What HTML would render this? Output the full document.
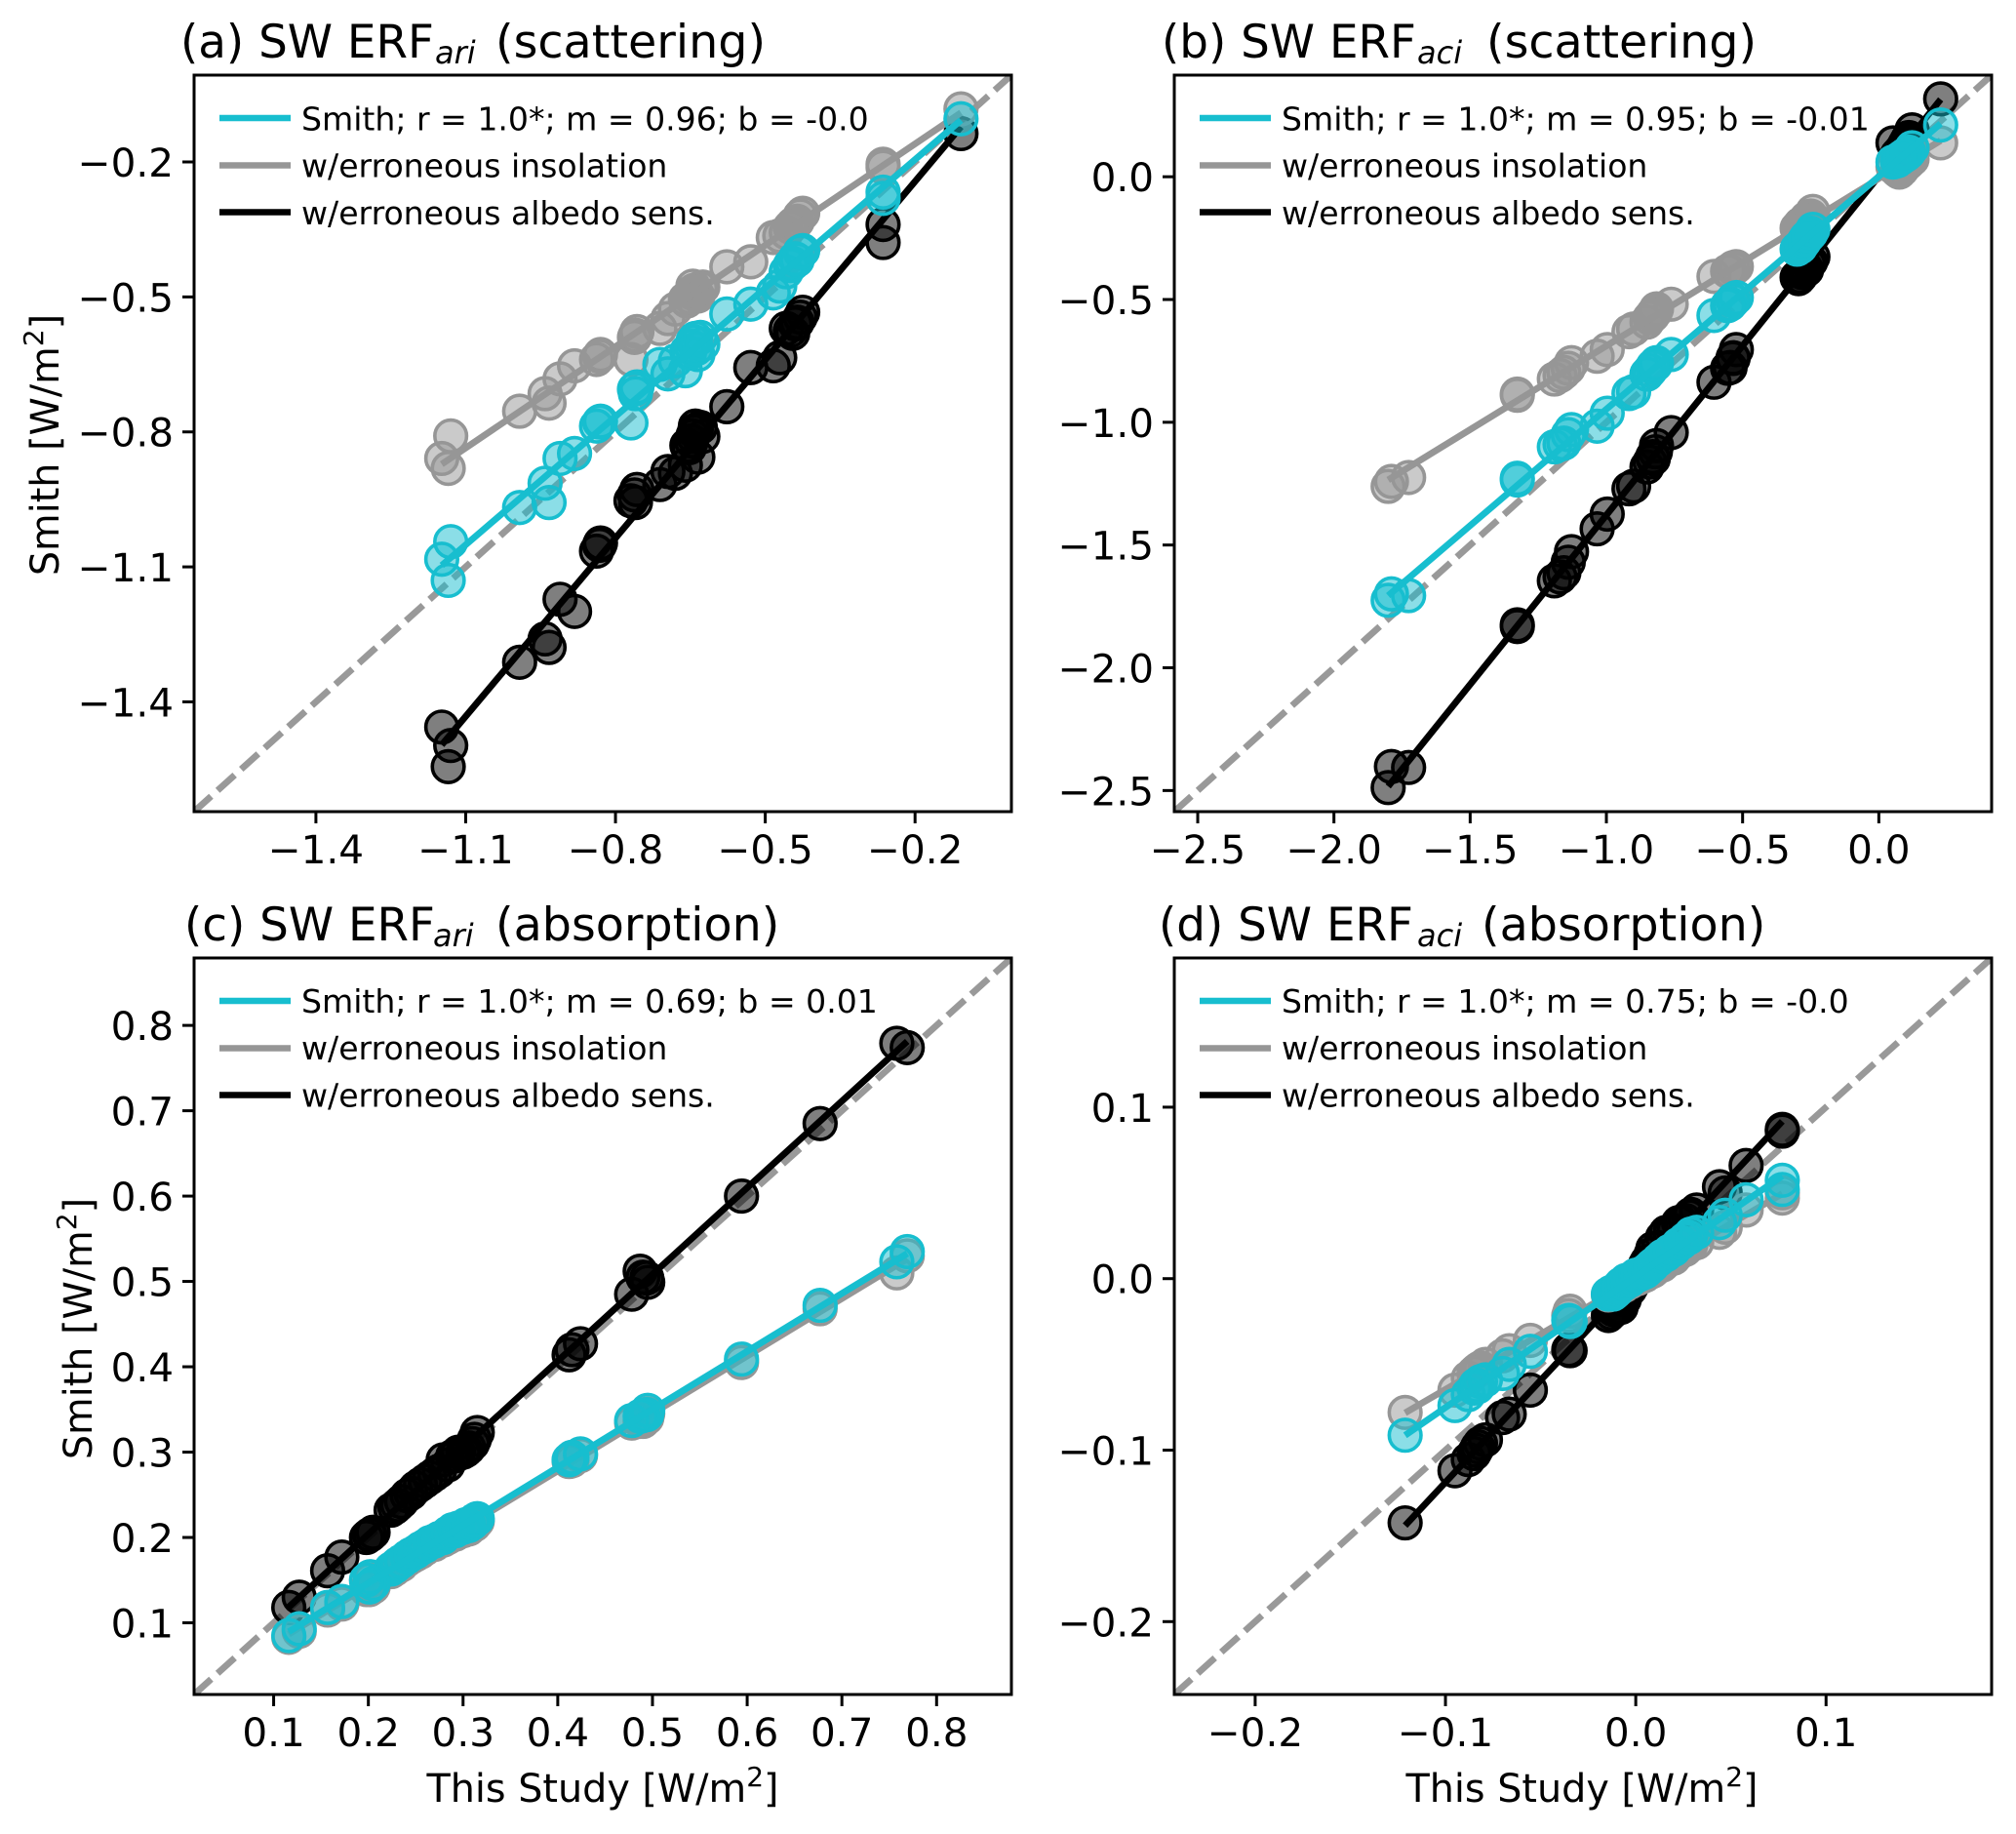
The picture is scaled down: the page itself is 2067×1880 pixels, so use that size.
<!DOCTYPE html>
<html lang="en">
<head>
<meta charset="utf-8">
<title>SW ERF comparison</title>
<style>
html,body{margin:0;padding:0;background:#fff;}
svg{display:block;font-family:"DejaVu Sans","Liberation Sans",sans-serif;}
.title{font-size:46.8px;fill:#000;}
.title .sub{font-size:32px;font-style:italic;}
.title .rest{font-size:47.6px;}
.leg{font-size:33.1px;fill:#000;}
.axlab{font-size:39.7px;fill:#000;}
.axlab .sup{font-size:28px;}
.tick{font-size:40.5px;fill:#000;}
</style>
</head>
<body>
<svg id="figure" xmlns="http://www.w3.org/2000/svg" width="2067" height="1880" viewBox="0 0 2067 1880">
  <rect x="0" y="0" width="2067" height="1880" fill="#fff"/>
  <defs>
    <clipPath id="clip-a"><rect x="199" y="77" width="838" height="755"/></clipPath>
    <clipPath id="clip-b"><rect x="1204" y="77" width="838" height="755"/></clipPath>
    <clipPath id="clip-c"><rect x="199" y="982" width="838" height="755"/></clipPath>
    <clipPath id="clip-d"><rect x="1204" y="982" width="838" height="755"/></clipPath>
  </defs>

  <g id="panel-a"></g>
  <g id="panel-b"></g>
  <g id="panel-c"></g>
  <g id="panel-d"></g>

  <text class="title" x="185" y="59">(a) SW ERF<tspan class="sub" x="446" dy="6">ari</tspan><tspan class="rest" x="508" dy="-6">(scattering)</tspan></text>
  <text class="title" x="1191" y="59">(b) SW ERF<tspan class="sub" x="1453" dy="6">aci</tspan><tspan class="rest" x="1524" dy="-6">(scattering)</tspan></text>
  <text class="title" x="189" y="964">(c) SW ERF<tspan class="sub" x="444" dy="6">ari</tspan><tspan class="rest" x="508" dy="-6">(absorption)</tspan></text>
  <text class="title" x="1188" y="964">(d) SW ERF<tspan class="sub" x="1453" dy="6">aci</tspan><tspan class="rest" x="1519" dy="-6">(absorption)</tspan></text>

  <text class="axlab" transform="translate(60,456) rotate(-90)" text-anchor="middle">Smith [W/m<tspan class="sup" dy="-16">2</tspan><tspan dy="16">]</tspan></text>
  <text class="axlab" transform="translate(94,1362) rotate(-90)" text-anchor="middle">Smith [W/m<tspan class="sup" dy="-16">2</tspan><tspan dy="16">]</tspan></text>
  <text class="axlab" x="618" y="1847" text-anchor="middle">This Study [W/m<tspan class="sup" dy="-16">2</tspan><tspan dy="16">]</tspan></text>
  <text class="axlab" x="1622" y="1847" text-anchor="middle">This Study [W/m<tspan class="sup" dy="-16">2</tspan><tspan dy="16">]</tspan></text>

  <g>
    <line x1="225" x2="298" y1="121" y2="121" stroke="#17becf" stroke-width="6.5"/>
    <line x1="225" x2="298" y1="169.5" y2="169.5" stroke="#969696" stroke-width="6.5"/>
    <line x1="225" x2="298" y1="217.5" y2="217.5" stroke="#000" stroke-width="6.5"/>
    <text class="leg" x="309" y="133.5">Smith; r = 1.0*; m = 0.96; b = -0.0</text>
    <text class="leg" x="309" y="181.5">w/erroneous insolation</text>
    <text class="leg" x="309" y="230">w/erroneous albedo sens.</text>
  </g>
  <g>
    <line x1="1230" x2="1303" y1="121" y2="121" stroke="#17becf" stroke-width="6.5"/>
    <line x1="1230" x2="1303" y1="169.5" y2="169.5" stroke="#969696" stroke-width="6.5"/>
    <line x1="1230" x2="1303" y1="217.5" y2="217.5" stroke="#000" stroke-width="6.5"/>
    <text class="leg" x="1314" y="133.5">Smith; r = 1.0*; m = 0.95; b = -0.01</text>
    <text class="leg" x="1314" y="181.5">w/erroneous insolation</text>
    <text class="leg" x="1314" y="230">w/erroneous albedo sens.</text>
  </g>
  <g>
    <line x1="225" x2="298" y1="1026" y2="1026" stroke="#17becf" stroke-width="6.5"/>
    <line x1="225" x2="298" y1="1074.5" y2="1074.5" stroke="#969696" stroke-width="6.5"/>
    <line x1="225" x2="298" y1="1122.5" y2="1122.5" stroke="#000" stroke-width="6.5"/>
    <text class="leg" x="309" y="1038">Smith; r = 1.0*; m = 0.69; b = 0.01</text>
    <text class="leg" x="309" y="1086">w/erroneous insolation</text>
    <text class="leg" x="309" y="1134.5">w/erroneous albedo sens.</text>
  </g>
  <g>
    <line x1="1230" x2="1303" y1="1026" y2="1026" stroke="#17becf" stroke-width="6.5"/>
    <line x1="1230" x2="1303" y1="1074.5" y2="1074.5" stroke="#969696" stroke-width="6.5"/>
    <line x1="1230" x2="1303" y1="1122.5" y2="1122.5" stroke="#000" stroke-width="6.5"/>
    <text class="leg" x="1314" y="1038">Smith; r = 1.0*; m = 0.75; b = -0.0</text>
    <text class="leg" x="1314" y="1086">w/erroneous insolation</text>
    <text class="leg" x="1314" y="1134.5">w/erroneous albedo sens.</text>
  </g>
</svg>

<script>
// Panel (a) SW ERFari scattering
const aThisStudy = [-1.148,-1.135,-1.130,-0.992,-0.941,-0.933,-0.911,-0.882,-0.838,-0.830,-0.769,-0.757,-0.760,-0.711,-0.695,-0.680,-0.660,-0.645,-0.640,-0.635,-0.657,-0.577,-0.529,-0.484,-0.471,-0.445,-0.458,-0.425,-0.436,-0.264,-0.264,-0.108,-0.652,-0.648,-0.642,-0.638,-0.630,-0.625,-0.450,-0.440,-0.430,-0.832,-0.762];
const aInsolation = [-0.859,-0.881,-0.809,-0.754,-0.715,-0.736,-0.682,-0.653,-0.639,-0.628,-0.639,-0.577,-0.585,-0.570,-0.548,-0.527,-0.505,-0.476,-0.494,-0.498,-0.509,-0.433,-0.422,-0.368,-0.364,-0.339,-0.357,-0.314,-0.332,-0.205,-0.212,-0.082,-0.500,-0.490,-0.485,-0.495,-0.480,-0.478,-0.345,-0.335,-0.320,-0.632,-0.590];
const aSmith = [-1.083,-1.130,-1.044,-0.968,-0.914,-0.957,-0.859,-0.848,-0.787,-0.776,-0.780,-0.700,-0.715,-0.650,-0.671,-0.642,-0.664,-0.599,-0.592,-0.628,-0.621,-0.538,-0.516,-0.491,-0.476,-0.426,-0.444,-0.397,-0.418,-0.267,-0.281,-0.104,-0.625,-0.610,-0.600,-0.615,-0.590,-0.605,-0.430,-0.415,-0.400,-0.778,-0.705];
const aAlbedo = [-1.456,-1.544,-1.497,-1.312,-1.260,-1.279,-1.172,-1.199,-1.065,-1.047,-0.953,-0.928,-0.957,-0.917,-0.888,-0.892,-0.874,-0.809,-0.787,-0.856,-0.830,-0.744,-0.657,-0.653,-0.635,-0.581,-0.570,-0.534,-0.556,-0.339,-0.379,-0.137,-0.835,-0.820,-0.800,-0.795,-0.790,-0.810,-0.575,-0.560,-0.545,-1.052,-0.940];
const aLimits = [-1.644,-0.007];
const aTicks = [-1.4,-1.1,-0.8,-0.5,-0.2];

// Panel (b) SW ERFaci scattering
const bThisStudy = [-1.801,-1.789,-1.726,-1.327,-1.327,-1.191,-1.156,-1.128,-1.034,-0.997,-0.917,-0.900,-0.851,-0.828,-0.816,-0.840,-0.762,-0.605,-0.546,-0.535,-0.523,-0.300,-0.288,-0.275,-0.265,-0.250,-0.242,0.052,0.075,0.085,0.100,0.122,0.227,-0.830,-0.820,-0.535,-0.555,-0.295,-0.282,-0.270,-0.258,0.068,0.080,0.095,0.110,0.105,0.090,-1.170,-1.140];
const bInsolation = [-1.261,-1.241,-1.225,-0.890,-0.885,-0.824,-0.797,-0.757,-0.731,-0.704,-0.631,-0.620,-0.592,-0.558,-0.538,-0.575,-0.519,-0.406,-0.386,-0.375,-0.366,-0.210,-0.194,-0.190,-0.170,-0.160,-0.141,0.040,0.019,0.030,0.050,0.072,0.138,-0.565,-0.550,-0.370,-0.385,-0.205,-0.195,-0.180,-0.165,0.025,0.030,0.045,0.060,0.055,0.040,-0.810,-0.780];
const bSmith = [-1.725,-1.699,-1.706,-1.235,-1.228,-1.100,-1.085,-1.030,-1.016,-0.963,-0.883,-0.875,-0.804,-0.771,-0.757,-0.790,-0.724,-0.565,-0.519,-0.505,-0.492,-0.295,-0.286,-0.265,-0.247,-0.230,-0.214,0.060,0.072,0.080,0.090,0.118,0.211,-0.775,-0.765,-0.500,-0.525,-0.290,-0.275,-0.255,-0.240,0.065,0.075,0.088,0.100,0.095,0.083,-1.090,-1.050];
const bAlbedo = [-2.488,-2.402,-2.406,-1.832,-1.825,-1.646,-1.613,-1.527,-1.434,-1.374,-1.271,-1.260,-1.182,-1.149,-1.095,-1.162,-1.042,-0.837,-0.777,-0.737,-0.704,-0.410,-0.406,-0.385,-0.379,-0.345,-0.326,0.138,0.098,0.110,0.140,0.191,0.317,-1.140,-1.120,-0.740,-0.780,-0.415,-0.390,-0.370,-0.355,0.090,0.105,0.130,0.160,0.150,0.120,-1.630,-1.570];
const bLimits = [-2.586,0.414];
const bTicks = [-2.5,-2.0,-1.5,-1.0,-0.5,0.0];

// Panel (c) SW ERFari absorption
const cThisStudy = [0.116,0.127,0.157,0.172,0.201,0.202,0.224,0.231,0.241,0.250,0.265,0.275,0.279,0.289,0.295,0.303,0.310,0.315,0.412,0.424,0.478,0.487,0.494,0.495,0.594,0.677,0.758,0.769,0.228,0.235,0.245,0.255,0.260,0.270,0.284,0.292,0.300,0.306,0.312,0.205,0.198,0.415,0.490];
const cInsolation = [0.083,0.090,0.115,0.122,0.139,0.150,0.160,0.166,0.174,0.180,0.191,0.196,0.197,0.206,0.208,0.212,0.214,0.219,0.289,0.296,0.334,0.336,0.340,0.345,0.405,0.468,0.510,0.530,0.163,0.168,0.177,0.183,0.187,0.192,0.200,0.204,0.208,0.210,0.215,0.142,0.139,0.290,0.336];
const cSmith = [0.085,0.093,0.118,0.125,0.142,0.154,0.163,0.169,0.177,0.183,0.194,0.199,0.200,0.209,0.211,0.215,0.217,0.222,0.291,0.298,0.337,0.342,0.344,0.349,0.409,0.472,0.523,0.535,0.166,0.172,0.180,0.187,0.190,0.196,0.205,0.208,0.212,0.214,0.220,0.146,0.150,0.294,0.343];
const cAlbedo = [0.118,0.130,0.161,0.177,0.203,0.203,0.232,0.238,0.249,0.258,0.270,0.278,0.291,0.295,0.300,0.302,0.310,0.323,0.414,0.427,0.485,0.512,0.504,0.499,0.600,0.685,0.779,0.774,0.235,0.242,0.252,0.262,0.266,0.274,0.285,0.296,0.300,0.305,0.315,0.206,0.200,0.420,0.505];
const cLimits = [0.016,0.879];
const cTicks = [0.1,0.2,0.3,0.4,0.5,0.6,0.7,0.8];

// Panel (d) SW ERFaci absorption
const dThisStudy = [-0.1212,-0.095,-0.088,-0.085,-0.0816,-0.070,-0.0665,-0.0554,-0.0352,-0.0345,-0.0144,-0.012,-0.010,-0.0077,-0.005,-0.002,0.003,0.006,0.009,0.012,0.016,0.020,0.0225,0.026,0.029,0.044,0.047,0.058,0.077,0.077,-0.084,-0.083,-0.079,-0.013,-0.011,-0.009,-0.006,-0.003,0.000,0.001,0.005,0.008,0.014,0.018,0.024,0.028,0.032];
const dInsolation = [-0.078,-0.065,-0.058,-0.055,-0.052,-0.045,-0.042,-0.036,-0.0215,-0.019,-0.0095,-0.008,-0.007,-0.005,-0.003,-0.001,0.001,0.003,0.0045,0.007,0.010,0.012,0.015,0.017,0.020,0.027,0.030,0.040,0.047,0.050,-0.054,-0.053,-0.050,-0.009,-0.008,-0.006,-0.004,-0.002,0.000,0.000,0.002,0.004,0.008,0.012,0.016,0.019,0.021];
const dSmith = [-0.0913,-0.074,-0.0676,-0.0638,-0.060,-0.0553,-0.050,-0.0424,-0.0243,-0.025,-0.009,-0.009,-0.007,-0.0034,-0.001,0.000,0.003,0.005,0.008,0.011,0.014,0.017,0.020,0.023,0.026,0.0327,0.037,0.046,0.0574,0.052,-0.062,-0.063,-0.059,-0.008,-0.008,-0.005,-0.003,-0.001,0.002,0.002,0.004,0.007,0.013,0.016,0.021,0.024,0.027];
const dAlbedo = [-0.1424,-0.112,-0.1055,-0.102,-0.096,-0.081,-0.079,-0.065,-0.0414,-0.042,-0.0215,-0.018,-0.017,-0.0167,-0.008,-0.004,0.004,0.010,0.0175,0.018,0.027,0.028,0.0327,0.034,0.0375,0.0536,0.050,0.066,0.087,0.086,-0.100,-0.098,-0.094,-0.020,-0.018,-0.017,-0.012,-0.006,0.000,0.002,0.008,0.014,0.024,0.027,0.033,0.036,0.040];
const dLimits = [-0.2425,0.187];
const dTicks = [-0.2,-0.1,0.0,0.1];

const SVG_NS = 'http://www.w3.org/2000/svg';
const INSOLATION_COLOR = '#969696';
const SMITH_COLOR = '#17becf';
const ALBEDO_COLOR = '#000000';

function shape(tag, attrs, parent) {
  const el = document.createElementNS(SVG_NS, tag);
  Object.keys(attrs).forEach(function (k) { el.setAttribute(k, attrs[k]); });
  parent.appendChild(el);
  return el;
}

function fit(xs, ys) {
  const n = xs.length;
  let sx = 0, sy = 0, sxx = 0, sxy = 0;
  for (let i = 0; i < n; i++) { sx += xs[i]; sy += ys[i]; sxx += xs[i] * xs[i]; sxy += xs[i] * ys[i]; }
  const m = (n * sxy - sx * sy) / (n * sxx - sx * sx);
  return { m: m, b: (sy - m * sx) / n };
}

function tickText(v) {
  return v.toFixed(1).replace('-', '\u2212');
}

function drawPanel(id, frame, limits, ticks, xs, insolation, smith, albedo) {
  const g = document.getElementById('panel-' + id);
  const sx = function (v) { return frame.left + (v - limits[0]) / (limits[1] - limits[0]) * frame.width; };
  const sy = function (v) { return frame.top + frame.height - (v - limits[0]) / (limits[1] - limits[0]) * frame.height; };

  const plot = shape('g', { 'clip-path': 'url(#clip-' + id + ')' }, g);
  
  

  const diag = shape('line', { x1: sx(limits[0]), y1: sy(limits[0]), x2: sx(limits[1]), y2: sy(limits[1]), stroke: '#999999', 'stroke-width': 6.8, 'stroke-dasharray': '23.5 9' }, plot);
  
  

  const xMin = Math.min.apply(null, xs);
  const xMax = Math.max.apply(null, xs);
  const seriesList = [
    { name: 'albedo', color: ALBEDO_COLOR, values: albedo },
    { name: 'insolation', color: INSOLATION_COLOR, values: insolation },
    { name: 'smith', color: SMITH_COLOR, values: smith }
  ];

  seriesList.forEach(function (s) {
    const group = shape('g', {}, plot);
    
    
    s.values.forEach(function (v, i) {
      const dot = shape('circle', { cx: sx(xs[i]), cy: sy(v), r: 16.3, fill: s.color, 'fill-opacity': 0.5, stroke: s.color, 'stroke-width': 3.6 }, group);
      
      
    });
    const f = fit(xs, s.values);
    const ln = shape('line', { x1: sx(xMin), y1: sy(f.m * xMin + f.b), x2: sx(xMax), y2: sy(f.m * xMax + f.b), stroke: s.color, 'stroke-width': 6.8 }, group);
    
    
  });

  const box = shape('rect', { x: frame.left, y: frame.top, width: frame.width, height: frame.height, fill: 'none', stroke: '#000', 'stroke-width': 3 }, g);
  
  

  ticks.forEach(function (t) {
    const bottom = frame.top + frame.height;
    const xt = shape('line', { x1: sx(t), x2: sx(t), y1: bottom, y2: bottom + 12, stroke: '#000', 'stroke-width': 3 }, g);
    
    
    const xl = shape('text', { x: sx(t), y: bottom + 53, 'text-anchor': 'middle', 'class': 'tick' }, g);
    
    
    xl.textContent = tickText(t);

    const yt = shape('line', { x1: frame.left - 12, x2: frame.left, y1: sy(t), y2: sy(t), stroke: '#000', 'stroke-width': 3 }, g);
    
    
    const yl = shape('text', { x: frame.left - 21, y: sy(t) + 15, 'text-anchor': 'end', 'class': 'tick' }, g);
    
    
    yl.textContent = tickText(t);
  });
}

drawPanel('a', { left: 199, top: 77, width: 838, height: 755 }, aLimits, aTicks, aThisStudy, aInsolation, aSmith, aAlbedo);
drawPanel('b', { left: 1204, top: 77, width: 838, height: 755 }, bLimits, bTicks, bThisStudy, bInsolation, bSmith, bAlbedo);
drawPanel('c', { left: 199, top: 982, width: 838, height: 755 }, cLimits, cTicks, cThisStudy, cInsolation, cSmith, cAlbedo);
drawPanel('d', { left: 1204, top: 982, width: 838, height: 755 }, dLimits, dTicks, dThisStudy, dInsolation, dSmith, dAlbedo);
</script>
</body>
</html>
